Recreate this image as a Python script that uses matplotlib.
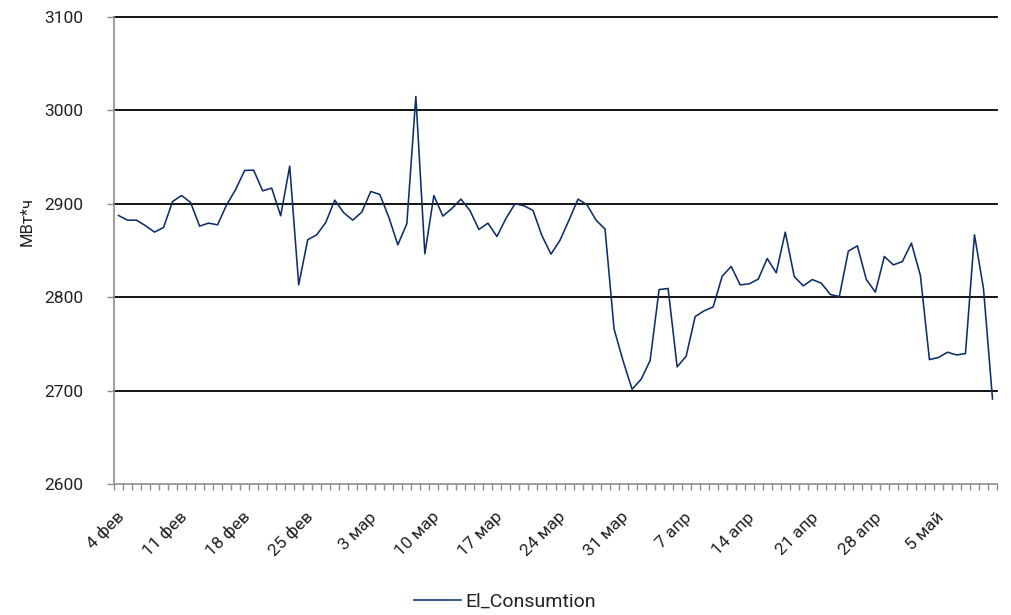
import matplotlib
matplotlib.use("Agg")
import matplotlib.pyplot as plt
import matplotlib.transforms as mtransforms
import numpy as np

plt.rcParams['font.family'] = ['Roboto', 'DejaVu Sans']

# Daily electricity consumption, 3 Feb – 10 May 2020
start_date = "2020-02-03"
consumption = [
    2887.5, 2882.5, 2882.5, 2876.5, 2869.7, 2874.7, 2902.5, 2908.9, 2901.4, 2876.1,
    2879.3, 2877.5, 2899.0, 2915.3, 2935.7, 2936.0, 2913.9, 2916.8, 2887.2, 2940.3,
    2813.3, 2861.5, 2866.8, 2880.0, 2903.9, 2890.4, 2882.5, 2891.1, 2913.2, 2910.0,
    2885.7, 2856.1, 2878.6, 3014.9, 2846.5, 2908.9, 2886.8, 2895.0, 2905.0, 2892.9,
    2872.5, 2879.3, 2865.0, 2884.3, 2900.0, 2897.9, 2892.9, 2865.8, 2846.1, 2861.0,
    2882.5, 2905.0, 2898.9, 2882.5, 2872.9, 2766.0, 2731.8, 2701.4, 2712.1, 2732.1,
    2808.2, 2809.3, 2725.4, 2736.8, 2779.3, 2785.4, 2789.6, 2822.5, 2832.9, 2813.2,
    2814.3, 2819.3, 2841.4, 2826.1, 2869.6, 2822.1, 2812.1, 2818.9, 2815.0, 2802.9,
    2800.7, 2849.3, 2855.0, 2818.9, 2805.4, 2843.6, 2834.6, 2838.2, 2857.9, 2823.2,
    2733.2, 2735.4, 2741.1, 2738.2, 2739.6, 2866.8, 2809.3, 2691.1,
]
series_name = "El_Consumtion"
y_label = "МВт*ч"

# Weekly date labels (every 7th day starting with 4 Feb)
week_labels = ["4 фев", "11 фев", "18 фев", "25 фев", "3 мар", "10 мар", "17 мар",
               "24 мар", "31 мар", "7 апр", "14 апр", "21 апр", "28 апр", "5 май"]
first_label_day = 1
y_ticks = [2600, 2700, 2800, 2900, 3000, 3100]

line_color = "#0f2d6b"
axis_gray = "#8c8c8c"
text_color = "#222222"

x = np.arange(len(consumption))

fig = plt.figure(figsize=(10.11, 6.15), dpi=100)
ax = fig.add_axes([114 / 1011, 1 - 484 / 615, (997 - 114) / 1011, (484 - 17) / 615])

# horizontal reference lines
for yv in y_ticks[1:]:
    ax.axhline(yv, color="black", lw=1.3, zorder=1, clip_on=False)

ax.plot(x, consumption, color=line_color, lw=1.15, zorder=3, label=series_name)

ax.set_xlim(-0.5, len(consumption) - 0.5)
ax.set_ylim(y_ticks[0], y_ticks[-1])

# spines
for side in ("top", "right"):
    ax.spines[side].set_visible(False)
for side in ("left", "bottom"):
    ax.spines[side].set_color(axis_gray)
    ax.spines[side].set_linewidth(1.2)

# y axis
ax.set_yticks(y_ticks)
ax.tick_params(axis="y", direction="out", length=5, width=1.0, color=axis_gray,
               pad=17, labelsize=12.5, labelcolor=text_color)

# x axis: tick marks between days, labels centred on weekly days
label_pos = first_label_day + 7 * np.arange(len(week_labels))
ax.set_xticks(label_pos)
ax.set_xticklabels(week_labels)
ax.set_xticks(np.arange(-0.5, len(consumption), 1.0), minor=True)
ax.tick_params(axis="x", which="major", length=0, pad=0, labelsize=12.5,
               labelcolor=text_color)
ax.tick_params(axis="x", which="minor", direction="out", length=4.5, width=1.0,
               color=axis_gray)
offset = mtransforms.ScaledTranslation(-2.5 / 100, -34 / 100, fig.dpi_scale_trans)
for lbl in ax.get_xticklabels():
    lbl.set_rotation(45)
    lbl.set_rotation_mode("anchor")
    lbl.set_horizontalalignment("right")
    lbl.set_verticalalignment("baseline")
    lbl.set_transform(lbl.get_transform() + offset)

fig.text(27 / 1011, 1 - 221 / 615, y_label, rotation=90, ha="center", va="center",
         fontsize=12, color=text_color)

fig.legend(loc="center", bbox_to_anchor=(505 / 1011, 1 - 602 / 615), frameon=False,
           fontsize=14, handlelength=2.4, handletextpad=0.25, labelcolor=text_color)

fig.savefig("out.png", dpi=100)
